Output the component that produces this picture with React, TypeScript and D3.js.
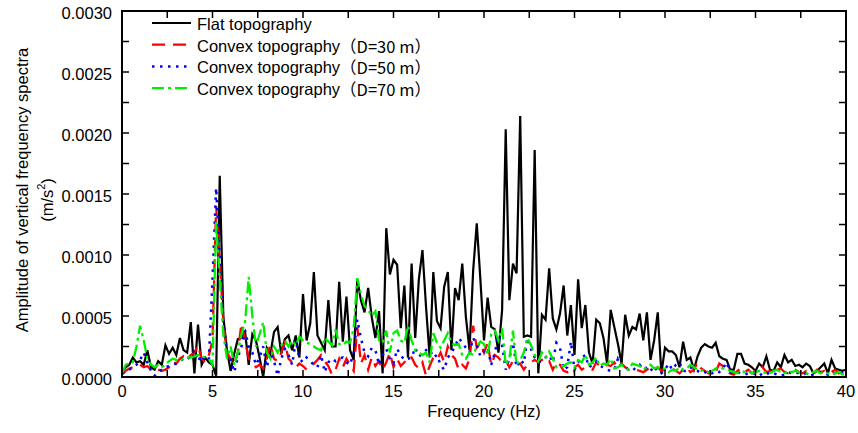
import React from "react";
import * as d3 from "d3";

// frequency step (Hz) between samples, 0..40 Hz
const FREQ_STEP = 0.2;
const X_TICKS = [0, 5, 10, 15, 20, 25, 30, 35, 40];
const Y_TICKS = [0, 0.0005, 0.001, 0.0015, 0.002, 0.0025, 0.003];

// amplitudes in units of 1e-4 m/s^2
const flat = [
  0.4,0.8,1.0,1.6,1.2,1.3,1.0,2.2,0.8,0.6,
  1.3,1.0,2.6,1.9,2.4,1.8,3.2,2.2,2.0,4.5,
  0.3,4.3,1.0,1.6,1.2,1.0,0.1,16.5,4.9,2.2,
  0.5,1.9,3.1,3.2,3.7,1.0,3.5,3.0,1.6,0.0,
  2.4,1.9,3.7,4.1,1.9,3.1,3.4,2.2,3.4,1.6,
  6.8,3.0,4.4,8.6,3.4,2.8,2.2,6.3,2.5,2.5,
  7.8,2.9,6.6,2.2,1.4,8.0,6.3,5.3,7.3,4.9,
  3.2,5.4,0.3,12.2,8.4,9.6,9.2,4.0,7.5,1.6,
  9.3,3.2,8.0,10.4,5.7,1.6,8.6,4.6,4.0,7.4,
  8.6,2.2,7.3,6.3,9.3,4.9,2.2,8.7,12.6,8.0,
  3.0,6.5,4.1,3.9,2.0,5.5,20.3,6.3,9.3,8.5,
  21.4,3.3,3.4,3.3,18.6,0.3,5.1,4.7,8.9,4.8,
  3.9,5.2,7.5,3.4,5.9,1.8,8.0,4.0,5.9,2.0,
  1.1,4.7,4.4,3.2,1.1,5.5,4.1,2.7,1.1,5.1,
  3.4,4.1,3.9,5.2,3.0,5.3,1.4,3.0,5.3,0.3,
  2.4,2.1,2.1,1.8,0.8,2.9,1.4,1.6,0.6,1.7,
  2.4,2.7,2.5,2.4,2.8,1.7,1.5,1.4,0.6,0.6,
  1.9,1.9,1.1,1.0,0.8,0.5,1.1,0.8,1.7,0.6,
  0.5,1.2,0.8,1.8,1.2,1.4,0.9,1.0,0.8,1.1,
  0.9,0.3,0.5,0.8,1.1,0.3,1.4,0.7,0.6,0.5,
  0.6,
];

const convex30 = [
  0.2,0.5,0.7,0.8,0.9,1.0,0.8,0.9,0.6,0.5,
  0.6,0.5,0.6,0.8,1.3,1.1,1.5,1.7,1.4,1.8,
  2.0,2.6,1.5,1.2,1.8,3.0,14.0,9.6,4.5,2.0,
  1.5,1.0,2.0,4.4,3.0,1.5,1.2,0.8,1.0,0.7,
  1.5,2.7,1.5,1.3,2.0,2.8,1.5,1.2,0.8,1.1,
  0.9,0.6,0.8,1.1,1.4,1.8,1.3,0.9,0.2,0.6,
  1.5,0.8,1.5,1.0,0.5,4.1,1.1,1.8,0.6,1.6,
  0.9,1.3,0.6,1.2,2.0,0.8,1.5,0.9,1.2,1.7,
  1.6,1.0,0.7,1.2,0.1,0.9,1.6,1.4,2.0,1.2,
  2.5,1.8,1.5,0.6,1.0,0.7,1.5,4.2,2.4,2.8,
  2.0,2.8,1.0,1.8,1.6,1.2,1.4,0.8,1.3,1.0,
  1.1,0.6,1.0,1.2,1.4,1.2,1.4,1.1,1.3,0.6,
  1.2,1.0,0.5,0.4,0.6,0.8,1.0,0.6,0.8,0.7,
  0.6,1.2,0.9,0.8,1.0,0.9,1.2,0.7,1.1,0.8,
  0.6,0.7,0.6,0.5,0.4,0.6,0.8,0.6,0.8,0.5,
  0.6,0.5,0.7,0.5,0.3,0.6,0.8,0.4,0.6,1.2,
  0.7,0.5,0.3,0.6,0.4,1.1,0.9,0.5,0.3,0.2,
  0.5,0.7,0.4,0.6,0.3,0.5,0.9,0.8,0.4,0.5,
  0.3,0.6,0.7,0.4,0.3,0.5,0.6,0.4,0.3,0.5,
  0.4,0.3,0.6,0.4,0.5,0.3,0.4,0.6,0.3,0.4,
  0.3,
];

const convex50 = [
  0.3,0.4,0.6,0.8,1.0,1.4,2.0,1.2,0.5,0.1,
  0.4,0.6,0.8,0.9,1.0,1.1,1.3,1.5,1.4,1.8,
  2.2,1.3,1.8,1.3,1.5,8.0,15.5,10.0,4.5,2.0,
  1.5,0.4,1.6,2.5,3.8,2.5,2.0,1.0,1.6,2.5,
  0.8,2.0,1.3,0.1,1.5,2.3,1.8,1.0,3.0,1.5,
  1.2,1.6,1.3,1.0,0.8,1.8,0.4,1.2,1.5,1.3,
  1.5,1.6,1.2,1.0,2.0,4.7,3.2,2.0,1.7,2.4,
  2.2,1.0,1.8,2.3,1.5,1.1,2.3,1.8,1.4,1.5,
  1.6,2.4,1.7,1.9,2.2,2.3,1.6,1.8,1.0,0.6,
  1.6,2.0,2.5,3.2,2.8,2.4,2.0,3.2,2.6,1.7,
  2.1,2.4,1.0,2.0,3.4,2.6,0.6,1.5,2.8,0.8,
  1.4,1.1,3.2,2.3,1.6,1.2,1.3,1.6,1.8,1.2,
  2.8,2.4,0.6,0.8,2.9,0.6,1.2,1.6,1.8,0.8,
  1.0,1.3,0.9,0.8,0.6,0.5,0.6,1.5,0.9,0.8,
  0.6,0.5,0.8,1.0,0.6,0.8,0.5,0.9,0.4,0.3,
  0.6,1.1,0.6,1.0,1.2,0.5,0.5,0.8,0.6,0.5,
  0.3,0.4,0.2,0.3,0.5,0.4,0.7,1.2,0.4,0.3,
  0.4,0.3,0.2,0.3,0.4,0.2,0.1,0.3,0.2,0.4,
  0.3,0.2,0.1,0.2,0.4,0.3,0.4,0.3,0.2,0.3,
  0.1,0.2,0.3,0.4,0.3,0.2,0.4,0.3,0.2,0.3,
  0.2,
];

const convex70 = [
  0.3,1.0,1.1,1.2,2.5,4.2,3.0,1.5,1.0,0.8,
  1.0,0.8,1.0,1.3,1.5,1.4,1.3,1.5,1.6,1.6,
  1.7,1.8,1.7,1.6,1.5,1.0,12.7,8.0,3.5,1.5,
  2.5,1.0,2.0,3.5,4.5,8.2,5.0,2.5,3.5,4.5,
  2.0,1.5,2.5,2.0,2.6,3.0,2.5,3.0,2.6,3.3,
  3.0,2.8,2.7,2.5,2.3,2.2,3.2,2.9,2.6,3.9,
  2.7,2.6,2.9,2.8,4.0,8.1,6.8,5.8,5.5,5.0,
  5.4,3.0,2.8,3.8,2.0,3.6,3.8,3.0,2.8,4.2,
  3.0,2.2,2.0,1.8,2.0,1.2,3.6,2.8,2.4,3.0,
  3.6,2.8,2.6,2.7,1.8,1.5,2.0,1.8,2.5,2.9,
  2.7,1.8,3.5,3.8,3.0,4.0,1.0,1.5,3.8,1.0,
  1.4,2.0,3.2,2.6,1.8,1.3,2.0,1.6,2.1,1.5,
  0.8,0.9,0.9,1.1,1.2,0.8,1.4,1.2,1.8,1.0,
  1.2,1.6,0.9,1.1,1.0,1.5,0.7,0.8,1.0,0.7,
  0.6,1.1,1.0,0.9,0.6,0.8,1.0,0.7,0.8,0.6,
  0.7,0.4,0.6,0.5,0.8,0.6,0.7,1.0,0.8,0.6,
  0.5,0.6,0.4,0.5,0.7,0.8,0.7,0.6,0.5,0.4,
  0.3,0.5,0.4,0.5,0.3,0.4,0.5,0.3,0.4,0.3,
  0.5,0.6,0.4,0.3,0.5,0.4,0.5,0.4,0.4,0.3,
  0.2,0.4,0.5,0.3,0.4,0.3,0.2,0.3,0.4,0.2,
  0.3,
];

const SERIES_NAMES = ["Flat topography", "Convex topography", "Convex topography", "Convex topography"];
const SERIES_SUFFIX = ["", "（D=30 m）", "（D=50 m）", "（D=70 m）"];

const W = 858;
const H = 433;
const M = { left: 122, right: 846, top: 11, bottom: 377 };
const FONT = "'Liberation Sans', Arial, sans-serif";

const styles = [
  { color: "#000000", dash: "", width: 2.2 },
  { color: "#ff0000", dash: "13,8", width: 2.3 },
  { color: "#0000ff", dash: "2.5,5.5", width: 2.5 },
  { color: "#00ee00", dash: "12,4,3,4", width: 2.3 },
];

export default function App() {
  const x = d3.scaleLinear().domain([0, 40]).range([M.left, M.right]);
  const y = d3.scaleLinear().domain([0, 0.003]).range([M.bottom, M.top]);
  const datasets = [flat, convex30, convex50, convex70];
  const line = d3
    .line<number>()
    .x((_, i) => x(i * FREQ_STEP))
    .y((d) => y(d * 1e-4));

  const xMinor = d3.range(0, 40.01, 2.5);
  const yMinor = d3.range(0, 0.00301, 0.00025);
  const tickLen = 7;

  return (
    <div style={{ position: "absolute", left: 0, top: 0 }}>
      <svg width={W} height={H} style={{ display: "block", background: "#fff" }}>
        <defs>
          <clipPath id="plot">
            <rect x={M.left} y={M.top} width={M.right - M.left} height={M.bottom - M.top + 1} />
          </clipPath>
        </defs>
        <g clipPath="url(#plot)">
          {datasets.map((d, k) => (
            <path
              key={k}
              d={line(d) || ""}
              fill="none"
              stroke={styles[k].color}
              strokeWidth={styles[k].width}
              strokeDasharray={styles[k].dash || undefined}
              strokeLinejoin="miter"
            />
          ))}
        </g>
        <rect
          x={M.left}
          y={M.top}
          width={M.right - M.left}
          height={M.bottom - M.top}
          fill="none"
          stroke="#000"
          strokeWidth={2}
        />
        {xMinor.map((v) => (
          <g key={"xt" + v}>
            <line x1={x(v)} x2={x(v)} y1={M.bottom} y2={M.bottom - tickLen} stroke="#000" strokeWidth={1.5} />
            <line x1={x(v)} x2={x(v)} y1={M.top} y2={M.top + tickLen} stroke="#000" strokeWidth={1.5} />
          </g>
        ))}
        {yMinor.map((v) => (
          <g key={"yt" + v}>
            <line x1={M.left} x2={M.left + tickLen} y1={y(v)} y2={y(v)} stroke="#000" strokeWidth={1.5} />
            <line x1={M.right} x2={M.right - tickLen} y1={y(v)} y2={y(v)} stroke="#000" strokeWidth={1.5} />
          </g>
        ))}
        {X_TICKS.map((v) => (
          <text
            key={"xl" + v}
            x={x(v)}
            y={M.bottom + 14}
            textAnchor="middle"
            dominantBaseline="central"
            fontFamily={FONT}
            fontSize={16.5}
          >
            {v}
          </text>
        ))}
        {Y_TICKS.map((v) => (
          <text
            key={"yl" + v}
            x={M.left - 10}
            y={y(v) + 2}
            textAnchor="end"
            dominantBaseline="central"
            fontFamily={FONT}
            fontSize={16.5}
          >
            {v.toFixed(4)}
          </text>
        ))}
        <text
          x={(M.left + M.right) / 2}
          y={411}
          textAnchor="middle"
          dominantBaseline="central"
          fontFamily={FONT}
          fontSize={16.5}
        >
          Frequency (Hz)
        </text>
        <text
          transform="translate(22,190) rotate(-90)"
          textAnchor="middle"
          dominantBaseline="central"
          fontFamily={FONT}
          fontSize={16.5}
        >
          Amplitude of vertical frequency spectra
        </text>
        <text
          transform="translate(47,200) rotate(-90)"
          textAnchor="middle"
          dominantBaseline="central"
          fontFamily={FONT}
          fontSize={16.5}
        >
          (m/s<tspan fontSize={11} dy={-6}>2</tspan>
          <tspan dy={6}>)</tspan>
        </text>
        {SERIES_NAMES.map((name, k) => {
          const ly = 23 + k * 21.7;
          return (
            <g key={"lg" + k}>
              <line
                x1={152}
                x2={191}
                y1={ly}
                y2={ly}
                stroke={styles[k].color}
                strokeWidth={styles[k].width}
                strokeDasharray={styles[k].dash || undefined}
              />
              <text x={197} y={ly + 1} dominantBaseline="central" fontFamily={FONT} fontSize={16.5}>
                {name}
                {SERIES_SUFFIX[k] && (
                  <tspan fontFamily="'Noto Sans CJK SC', sans-serif" fontSize={16.5}>
                    {SERIES_SUFFIX[k]}
                  </tspan>
                )}
              </text>
            </g>
          );
        })}
      </svg>
    </div>
  );
}
